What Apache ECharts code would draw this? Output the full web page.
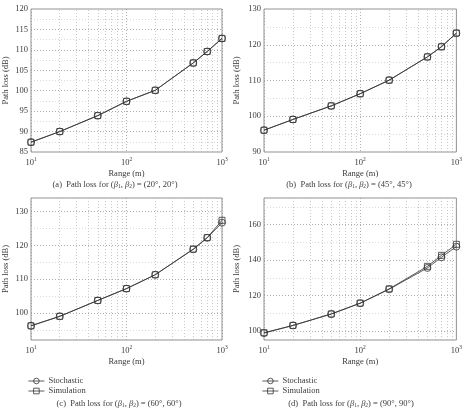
<!DOCTYPE html>
<html>
<head>
<meta charset="utf-8">
<script src="https://cdn.jsdelivr.net/npm/echarts@6/dist/echarts.min.js"></script>
<style>
  html, body { margin: 0; padding: 0; background: #fff; }
  #chart { width: 465px; height: 410px; }
</style>
</head>
<body>
<div id="chart"></div>
<script>
// ranges (m) on the log x axis
const ranges = [10, 20, 50, 100, 200, 500, 700, 1000]
const xMinorGrid = [20, 30, 40, 50, 60, 70, 80, 90, 200, 300, 400, 500, 600, 700, 800, 900]

// path loss (dB) per panel
const stochA = [87.4, 90.0, 93.9, 97.4, 100.1, 106.8, 109.6, 112.8]
const simA = [87.4, 90.0, 93.9, 97.4, 100.1, 106.8, 109.6, 112.8]
const stochB = [96.1, 99.1, 102.9, 106.3, 110.1, 116.6, 119.5, 123.2]
const simB = [96.1, 99.1, 102.9, 106.3, 110.1, 116.6, 119.4, 123.3]
const stochC = [96.2, 99.0, 103.7, 107.2, 111.3, 118.8, 122.2, 126.7]
const simC = [96.2, 99.0, 103.7, 107.2, 111.3, 118.9, 122.3, 127.4]
const stochD = [98.9, 103.2, 109.6, 115.7, 123.6, 135.6, 141.6, 147.6]
const simD = [99.1, 103.2, 109.7, 115.8, 123.8, 136.5, 142.7, 148.9]

// y axis ranges and grid values
const yMinMax = [[85, 120], [90, 130], [92, 134], [95, 175]]
const yStep = [5, 10, 2, 5]
const yLabelEvery = [5, 10, 10, 20]
const yMajor = [[90, 95, 100, 105, 110, 115], [100, 110, 120], [100, 110, 120, 130], [100, 120, 140, 160]]
const yMinor = [[87.5, 92.5, 97.5, 102.5, 107.5, 112.5, 117.5], [95, 105, 115, 125], [95, 105, 115, 125],
  [110, 130, 150, 170]]

const captions = [
  { x: 115, y: 185, tag: "(a)", ang: "20°, 20°" },
  { x: 349, y: 185, tag: "(b)", ang: "45°, 45°" },
  { x: 119, y: 404, tag: "(c)", ang: "60°, 60°" },
  { x: 351, y: 404, tag: "(d)", ang: "90°, 90°" },
]

const font = "Liberation Serif"
const txt = "#3a3a3a"
const ink = "#333"

const grids = [
  { left: 30, top: 9, width: 192, height: 143 },
  { left: 264, top: 9, width: 194, height: 143 },
  { left: 30, top: 198, width: 192, height: 142 },
  { left: 264, top: 198, width: 194, height: 142 },
]

const chart = echarts.init(document.getElementById("chart"), null, { renderer: "canvas" })

const xAxes = grids.map((g, i) => ({
  type: "log",
  logBase: 10,
  gridIndex: i,
  min: 10,
  max: 1000,
  name: "Range (m)",
  nameLocation: "middle",
  nameGap: 17,
  nameTextStyle: { fontFamily: font, fontSize: 8.5, color: txt },
  axisLine: { show: false },
  axisTick: { show: false },
  splitLine: { show: true, lineStyle: { type: [1, 2], color: "#999", width: 0.8 } },
  axisLabel: {
    margin: 5,
    formatter: (v) => "10{s|" + Math.round(Math.log10(v)) + "}",
    fontFamily: font,
    fontSize: 8.5,
    color: txt,
    rich: { s: { fontFamily: font, fontSize: 5.5, color: txt, padding: [0, 0, 6, 0] } },
  },
}))

const yAxes = grids.map((g, i) => ({
  type: "value",
  gridIndex: i,
  min: yMinMax[i][0],
  max: yMinMax[i][1],
  interval: yStep[i],
  name: "Path loss (dB)",
  nameLocation: "middle",
  nameGap: i % 2 === 0 ? 21 : 23,
  nameTextStyle: { fontFamily: font, fontSize: 8.5, color: txt },
  axisLine: { show: false },
  axisTick: { show: false },
  splitLine: { show: false },
  axisLabel: {
    margin: 3,
    fontFamily: font,
    fontSize: 8.5,
    color: txt,
    formatter: (v) => (Math.abs(v % yLabelEvery[i]) < 1e-9 ? String(v) : ""),
  },
}))

const panelData = [[stochA, simA], [stochB, simB], [stochC, simC], [stochD, simD]]

const series = []
panelData.forEach((pair, i) => {
  const gridLines = [
    ...xMinorGrid.map((v) => ({ xAxis: v, lineStyle: { color: "#bbb" } })),
    ...yMajor[i].map((v) => ({ yAxis: v, lineStyle: { color: "#999" } })),
    ...yMinor[i].map((v) => ({ yAxis: v, lineStyle: { color: "#d0d0d0" } })),
  ]
  series.push({
    name: "Stochastic",
    type: "line",
    xAxisIndex: i,
    yAxisIndex: i,
    data: ranges.map((r, k) => [r, pair[0][k]]),
    symbol: "circle",
    symbolSize: 7,
    lineStyle: { color: ink, width: 0.8 },
    itemStyle: { color: "rgba(255,255,255,0)", borderColor: ink, borderWidth: 0.8 },
    z: 3,
    markLine: {
      silent: true,
      symbol: "none",
      label: { show: false },
      lineStyle: { type: [1, 2], width: 0.8 },
      data: gridLines,
      z: 1,
    },
  })
  series.push({
    name: "Simulation",
    type: "line",
    xAxisIndex: i,
    yAxisIndex: i,
    data: ranges.map((r, k) => [r, pair[1][k]]),
    symbol: "rect",
    symbolSize: 6,
    lineStyle: { color: ink, width: 0.8 },
    itemStyle: { color: "rgba(255,255,255,0)", borderColor: ink, borderWidth: 0.8 },
    z: 3,
  })
})

const legendBase = {
  orient: "vertical",
  top: 376,
  padding: 0,
  itemWidth: 16,
  itemHeight: 7,
  itemGap: 0,
  data: ["Stochastic", "Simulation"],
  lineStyle: { width: 0.8 },
  itemStyle: { borderWidth: 0.8 },
  textStyle: { fontFamily: font, fontSize: 8.5, lineHeight: 10, color: txt, padding: [0, 0, 0, -1] },
}

const option = {
  animation: false,
  backgroundColor: "#fff",
  grid: grids.map((g) => ({ ...g, show: true, borderColor: "#777", borderWidth: 0.8 })),
  xAxis: xAxes,
  yAxis: yAxes,
  legend: [
    { ...legendBase, left: 28 },
    { ...legendBase, left: 262 },
  ],
  graphic: captions.map((c) => ({
    type: "text",
    x: c.x,
    y: c.y,
    style: {
      text: c.tag + "  Path loss for ({i|β}{b|1}, {i|β}{b|2}) = (" + c.ang + ")",
      fontFamily: font,
      fontSize: 8.5,
      fill: txt,
      align: "center",
      verticalAlign: "middle",
      rich: {
        i: { fontFamily: font, fontSize: 8.5, fontStyle: "italic", color: txt },
        b: { fontFamily: font, fontSize: 5.5, color: txt, padding: [3, 0, 0, 0] },
      },
    },
  })),
  series: series,
}

chart.setOption(option)
</script>
</body>
</html>
